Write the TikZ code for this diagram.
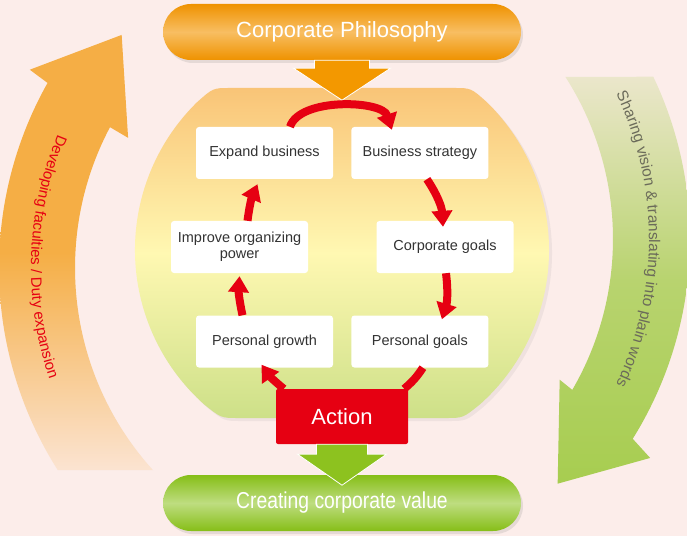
\documentclass[tikz,border=0pt]{standalone}
\usepackage{fontspec}
\setmainfont{Liberation Sans}
\newfontfamily\narrowfont[FakeStretch=0.84]{Liberation Sans}
\usepackage{tikz}
\usetikzlibrary{calc,positioning,arrows.meta,shadows,decorations.text}
\definecolor{bgpink}{HTML}{FCEDEA}
\definecolor{cpred}{HTML}{E60012}
\definecolor{cporange}{HTML}{F39800}
\definecolor{pilldark}{HTML}{EF9200}
\definecolor{pilllight}{HTML}{F8BE62}
\definecolor{cpgreen}{HTML}{8DC21F}
\definecolor{greendark}{HTML}{86BE17}
\definecolor{greenlight}{HTML}{BEDD80}
\definecolor{blobtop}{HTML}{F9C477}
\definecolor{blobmid}{HTML}{FFF8B2}
\definecolor{blobbot}{HTML}{CDE088}
\definecolor{sideorange}{HTML}{F5AE45}
\definecolor{sidegreen}{HTML}{A7CD50}
\definecolor{boxtext}{HTML}{333333}
\definecolor{sidegray}{HTML}{6B6B5A}
\tikzstyle{stepbox}   = [rectangle, rounded corners=3pt, fill=white, minimum width=137pt,
                         minimum height=52pt, inner sep=0pt, align=center, text=boxtext,
                         font=\fontsize{14.5}{16}\selectfont]
\tikzstyle{pill}      = [rectangle, rounded corners=28pt, minimum width=358pt, minimum height=56pt,
                         text=white, drop shadow={opacity=0.18, shadow xshift=2pt, shadow yshift=-3pt}]
\tikzstyle{actionbox} = [rectangle, rounded corners=2pt, fill=cpred, minimum width=132pt,
                         minimum height=55pt, text=white, font=\fontsize{22}{22}\selectfont]
\tikzstyle{loopline}  = [line width=8pt, draw=cpred, -{Triangle[length=16pt,width=20pt]}]

\begin{document}
\begin{tikzpicture}[x=1pt, y=1pt,
            bigarrow/.style={draw=white, line width=0.8pt},
            sidetext/.style={decorate, decoration={text along path, text align=center}}]
        \useasboundingbox (0,0) rectangle (687,536);
        \fill[bgpink] (0,0) rectangle (687,536);

        \coordinate (lc) at (376,268);
        \coordinate (rc) at (313,297);
        \shade[top color=sideorange, bottom color=bgpink!85!sideorange, middle color=sideorange]
            ($(lc)+(212.4:377)$) arc[start angle=212.4, end angle=150.6, radius=377]
            -- ($(lc)+(150.2:399)$) -- ($(lc)+(137.5:345)$) -- ($(lc)+(152.3:280)$)
            -- ($(lc)+(152.1:301)$) arc[start angle=152.1, end angle=222.2, radius=301] -- cycle;
        \shade[top color=bgpink!80!sidegreen, bottom color=sidegreen, middle color=sidegreen!80!bgpink]
            ($(rc)+(25.5:377)$) arc[start angle=25.5, end angle=-32, radius=377]
            -- ($(rc)+(-33:402)$) -- ($(rc)+(-45:346)$) -- ($(rc)+(-29.7:284)$)
            -- ($(rc)+(-30.2:300)$) arc[start angle=-30.2, end angle=32.7, radius=300] -- cycle;
        \path[sidetext, decoration={text color=cpred,
              text={|\fontsize{15}{15}\selectfont|Developing faculties / Duty expansion}}]
            ($(lc)+(148:345)$) arc[start angle=148, end angle=208, radius=345];
        \path[sidetext, decoration={text color=sidegray,
              text={|\fontsize{15.5}{15.5}\selectfont|Sharing vision {\&} translating into plain words}}]
            ($(rc)+(32:336)$) arc[start angle=32, end angle=-32, radius=336];

        \path[top color=blobtop, bottom color=blobbot, middle color=blobmid,
              drop shadow={opacity=0.1, shadow xshift=3pt, shadow yshift=-3pt}]
            (230,448) -- (454,448) .. controls (471,448) .. (487.1,433.6)
            arc[start angle=45.5, end angle=-48.2, radius=207]
            .. controls (463,118) .. (446,118) -- (238,118) .. controls (221,118) .. (204,131.7)
            arc[start angle=228.2, end angle=134.5, radius=207]
            .. controls (213,448) .. (230,448) -- cycle;

        \node[pill, top color=pilldark, bottom color=pilldark, middle color=pilllight] (philo) at (342,504)
            {\fontsize{22}{22}\selectfont Corporate Philosophy};
        \node[pill, top color=greendark, bottom color=greendark, middle color=greenlight] (value) at (342,33)
            {\narrowfont\fontsize{23}{23}\selectfont Creating corporate value};

        \node[stepbox] (expand) at (264.5,383) {Expand business};
        \node[stepbox, right=18pt of expand] (strategy) {Business strategy};
        \node[stepbox] (improve) at (239.5,289) {Improve organizing\\power};
        \node[stepbox] (cgoals) at (445,289) {Corporate goals};
        \node[stepbox] (growth) at (264.5,194.5) {Personal growth};
        \node[stepbox, right=18pt of growth] (pgoals) {Personal goals};
        \node[actionbox] (action) at (342,119.5) {Action};

        \fill[bigarrow, fill=cporange] ([xshift=-27.5]philo.south) -- ++(0,-8) -- ++(-21,0) -- ++(48.5,-32)
            -- ++(48.5,32) -- ++(-21,0) -- ++(0,8) -- cycle;
        \filldraw[bigarrow, fill=cpgreen] ([xshift=-25.5]action.south) -- ++(0,-10) -- ++(-19,0) -- ++(44.5,-31)
            -- ++(44.5,31) -- ++(-19,0) -- ++(0,10) -- cycle;

        \draw[loopline] ([xshift=25.5]expand.north) to[out=72,in=108,looseness=0.78] ([xshift=-28,yshift=-3]strategy.north);
        \draw[loopline] ([xshift=7]strategy.south) to[bend left=15] ([xshift=-2,yshift=-6]cgoals.north);
        \draw[loopline] ([xshift=1]cgoals.south) to[bend left=12] ([xshift=22,yshift=-4]pgoals.north);
        \draw[loopline, -] ([xshift=3]pgoals.south) to[bend left=8] ([xshift=-4]action.north east);
        \draw[loopline] ([xshift=8]action.north west) to[bend left=8] ([xshift=-3,yshift=3]growth.south);
        \draw[loopline] ([xshift=-22]growth.north) to[bend left=8] ([yshift=-3]improve.south);
        \draw[loopline] ([xshift=8]improve.north) to[bend left=8] ([xshift=-7,yshift=-5]expand.south);
    \end{tikzpicture}
\end{document}
